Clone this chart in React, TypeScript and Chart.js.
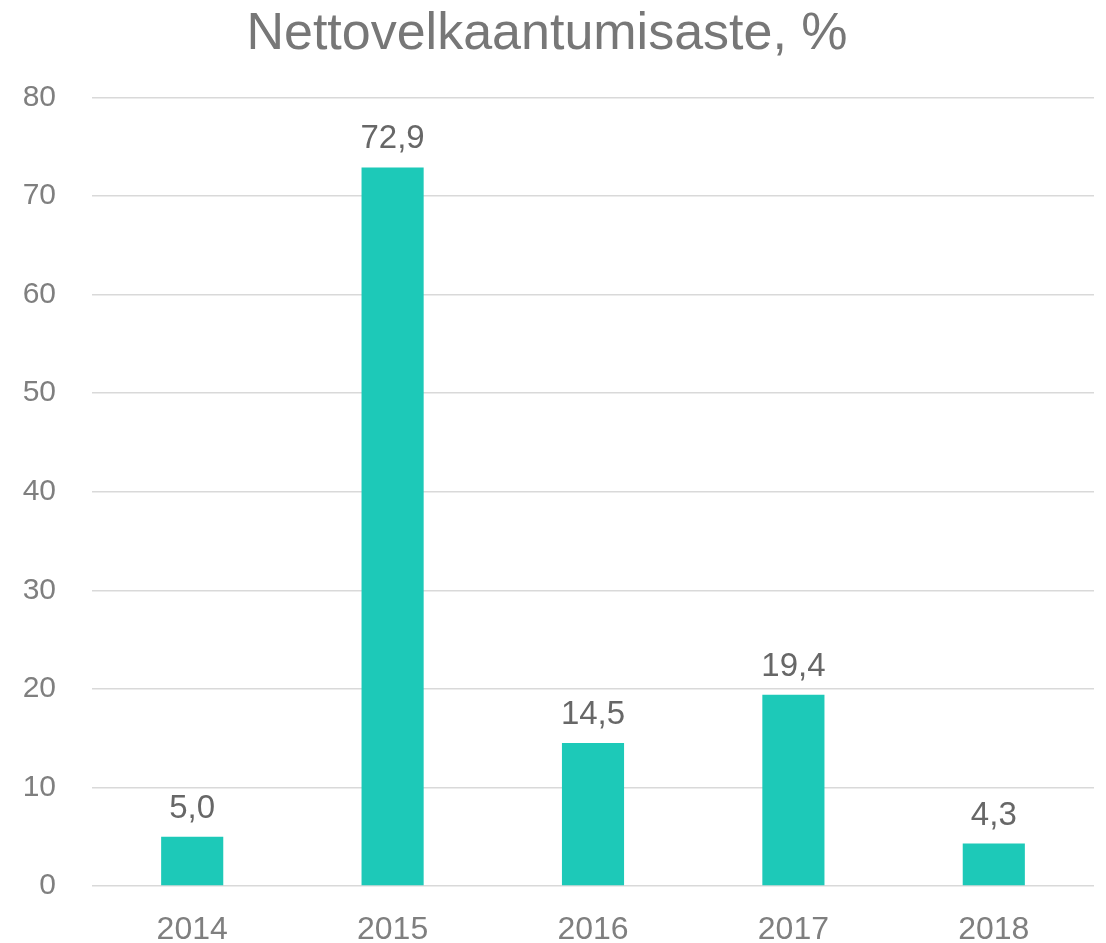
import React, { useEffect, useRef } from "react";
import { Chart, registerables } from "chart.js";

Chart.register(...registerables);

const categories = ["2014", "2015", "2016", "2017", "2018"];
const values = [5.0, 72.9, 14.5, 19.4, 4.3];
const yTicks = [0, 10, 20, 30, 40, 50, 60, 70, 80];
const titleText = "Nettovelkaantumisaste, %";

const FONT = "'Liberation Sans', Arial, sans-serif";

const valueLabels = {
  id: "valueLabels",
  afterDatasetsDraw(chart: any) {
    const ctx = chart.ctx;
    const meta = chart.getDatasetMeta(0);
    ctx.save();
    ctx.font = `33px ${FONT}`;
    ctx.fillStyle = "#676767";
    ctx.textAlign = "center";
    ctx.textBaseline = "alphabetic";
    meta.data.forEach((bar: any, i: number) => {
      const txt = values[i].toFixed(1).replace(".", ",");
      ctx.fillText(txt, bar.x, bar.y - 19);
    });
    ctx.restore();
  },
};

export default function App() {
  const ref = useRef<HTMLCanvasElement>(null);
  useEffect(() => {
    if (!ref.current) return;
    const chart = new Chart(ref.current, {
      type: "bar",
      data: {
        labels: categories,
        datasets: [
          {
            data: values,
            backgroundColor: "#1dc9b8",
            categoryPercentage: 1,
            barPercentage: 0.31,
          },
        ],
      },
      options: {
        animation: false,
        responsive: false,
        maintainAspectRatio: false,
        layout: { padding: { left: 0, right: 12, top: 0, bottom: 0 } },
        plugins: {
          legend: { display: false },
          tooltip: { enabled: false },
          title: {
            display: true,
            text: titleText,
            color: "#777777",
            font: { family: FONT, size: 52, weight: "normal" as any, lineHeight: 1.2 },
            padding: { top: 3, bottom: 32 },
          },
        },
        scales: {
          x: {
            grid: { display: false },
            border: { display: false },
            ticks: {
              color: "#7f7f7f",
              font: { family: FONT, size: 32 },
              padding: 17,
            },
            afterFit(scale: any) {
              scale.height = 57;
            },
          },
          y: {
            min: 0,
            max: 80,
            afterBuildTicks(scale: any) {
              scale.ticks = yTicks.map((v) => ({ value: v }));
            },
            grid: { color: "#d9d9d9", lineWidth: 1.5, drawTicks: false },
            border: { display: false },
            ticks: {
              color: "#7f7f7f",
              font: { family: FONT, size: 30 },
              padding: 36,
            },
            afterFit(scale: any) {
              scale.width = 92;
            },
          },
        },
      },
      plugins: [valueLabels],
    });
    return () => chart.destroy();
  }, []);
  return (
    <div style={{ position: "fixed", left: 0, top: 0, width: 1106, height: 943, background: "#fff" }}>
      <canvas ref={ref} width={1106} height={943} style={{ width: 1106, height: 943 }} />
    </div>
  );
}
